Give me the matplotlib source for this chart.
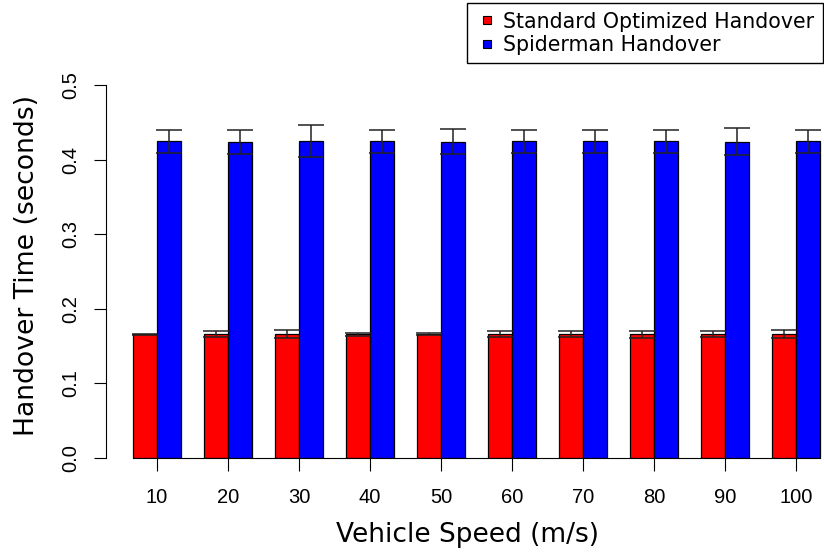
import matplotlib.pyplot as plt
import numpy as np
from matplotlib.lines import Line2D

speeds = [10, 20, 30, 40, 50, 60, 70, 80, 90, 100]
standard_mean = [0.166, 0.166, 0.166, 0.166, 0.166, 0.166, 0.166, 0.166, 0.166, 0.166]
standard_err = [0.0005, 0.0043, 0.0052, 0.0022, 0.0010, 0.0038, 0.0038, 0.0047, 0.0038, 0.0056]
spider_mean = [0.4245, 0.424, 0.4245, 0.4245, 0.424, 0.4245, 0.4245, 0.4245, 0.424, 0.4245]
spider_err = [0.0155, 0.016, 0.0215, 0.0158, 0.0168, 0.0158, 0.0158, 0.0158, 0.0184, 0.0158]

labels = ["Standard Optimized Handover", "Spiderman Handover"]
colors = ["#ff0000", "#0000ff"]

W, H = 824, 554
fig = plt.figure(figsize=(W / 100, H / 100), dpi=100)

# barplot-style layout: groups of two unit-width bars, one unit of space between groups
x_lo, x_hi = -0.16, 31.16
px_left, px_right = 105.8, 847.0
y_top_px, y_bot_px = 85, 458
ax = fig.add_axes([px_left / W, (H - y_bot_px) / H,
                   (px_right - px_left) / W, (y_bot_px - y_top_px) / H])

n = len(speeds)
left_red = 1 + 3 * np.arange(n)
left_blue = left_red + 1
centers = left_red + 1

ax.bar(left_red + 0.5, standard_mean, width=1.0, color=colors[0],
       edgecolor="black", linewidth=0.9, zorder=2)
ax.bar(left_blue + 0.5, spider_mean, width=1.0, color=colors[1],
       edgecolor="black", linewidth=0.9, zorder=2)
ax.errorbar(left_red + 0.5, standard_mean, yerr=standard_err, fmt="none",
            ecolor="#222222", elinewidth=1.1, capsize=9.4, capthick=1.1, zorder=3)
ax.errorbar(left_blue + 0.5, spider_mean, yerr=spider_err, fmt="none",
            ecolor="#222222", elinewidth=1.1, capsize=9.4, capthick=1.1, zorder=3)

ax.set_xlim(x_lo, x_hi)
ax.set_ylim(0, 0.5)

for s in ["top", "right"]:
    ax.spines[s].set_visible(False)
ax.spines["left"].set_bounds(0, 0.5)
ax.spines["bottom"].set_bounds(1, 30)
ax.spines["left"].set_linewidth(0.8)
ax.spines["bottom"].set_linewidth(0.8)

ax.set_xticks(centers)
ax.set_xticklabels([str(v) for v in speeds], fontfamily="Liberation Sans", fontsize=14.5)
ax.set_yticks([0.0, 0.1, 0.2, 0.3, 0.4, 0.5])
ax.set_yticklabels(["0.0", "0.1", "0.2", "0.3", "0.4", "0.5"],
                   fontfamily="Liberation Sans", fontsize=14.5,
                   rotation=90, va="center")
ax.tick_params(axis="x", length=9.4, width=0.8, pad=12)
ax.tick_params(axis="y", length=8.5, width=0.8, pad=10)

ax.set_xlabel("Vehicle Speed (m/s)", fontsize=19, fontfamily="DejaVu Sans", va="center")
ax.set_ylabel("Handover Time (seconds)", fontsize=19.2, fontfamily="DejaVu Sans", va="center")
ax.xaxis.set_label_coords((468 - px_left) / (px_right - px_left),
                          -(535 - y_bot_px) / (y_bot_px - y_top_px))
ax.yaxis.set_label_coords(-(px_left - 27) / (px_right - px_left),
                          (y_bot_px - 265) / (y_bot_px - y_top_px))

handles = [Line2D([], [], linestyle="none", marker="s", markersize=5.8,
                  markerfacecolor=c, markeredgecolor="black", markeredgewidth=0.8)
           for c in colors]
leg = fig.legend(handles, labels, loc="upper left",
                 bbox_to_anchor=(467 / W, 1 - 3 / H),
                 prop={"family": "DejaVu Sans", "size": 14.8},
                 handlelength=1.12, handletextpad=0.22,
                 borderpad=0.42, labelspacing=0.15, borderaxespad=0,
                 fancybox=False, framealpha=1)
leg.get_frame().set_edgecolor("black")
leg.get_frame().set_linewidth(1.0)

fig.savefig("out.png", dpi=100)
